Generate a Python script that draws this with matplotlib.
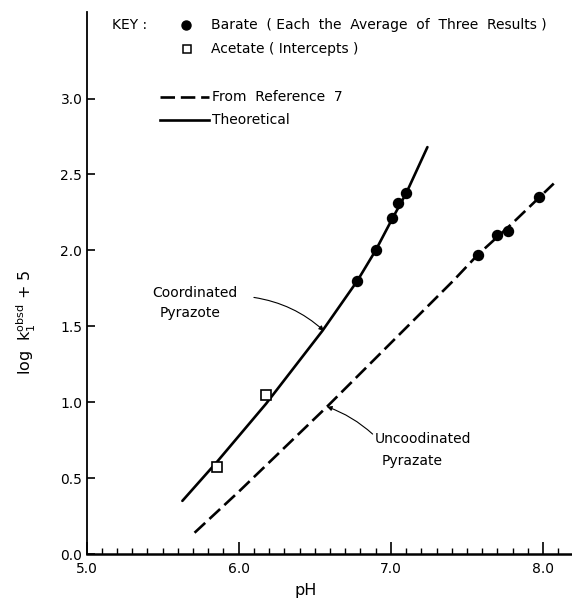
import numpy as np
import matplotlib
matplotlib.use("Agg")
import matplotlib.pyplot as plt
from matplotlib.lines import Line2D
from matplotlib.ticker import MultipleLocator

# --- data ---
# theoretical curve (solid)
theo_ph = [5.63, 5.86, 6.18, 6.55, 6.78, 6.90, 7.01, 7.10, 7.24]
theo_y = [0.35, 0.61, 0.99, 1.47, 1.80, 2.00, 2.21, 2.375, 2.68]
# from reference 7 (dashed)
ref_ph = [5.71, 6.00, 6.58, 7.00, 7.41, 7.57, 7.80, 8.07]
ref_y = [0.14, 0.41, 0.97, 1.39, 1.80, 1.97, 2.18, 2.44]
# borate points (filled circles)
bor_ph = [6.78, 6.90, 7.01, 7.05, 7.10, 7.57, 7.70, 7.77, 7.97]
bor_y = [1.80, 2.00, 2.21, 2.31, 2.375, 1.97, 2.10, 2.13, 2.35]
# acetate intercepts (open squares)
ace_ph = [5.855, 6.18]
ace_y = [0.57, 1.05]
yticks = [0.0, 0.5, 1.0, 1.5, 2.0, 2.5, 3.0]

W, H = 572, 598
fig = plt.figure(figsize=(W / 100, H / 100), dpi=100)
ax = fig.add_axes([86.5 / W, 44 / H, 485.5 / W, 542 / H])

def px(x, y):
  # figure pixel (from top-left) -> figure fraction
  return x / W, 1 - y / H

lw = 1.9
ax.plot(theo_ph, theo_y, color="black", lw=lw, solid_capstyle="round")
ax.plot(ref_ph, ref_y, color="black", lw=lw, dashes=(5.5, 2.2))
ax.plot(bor_ph, bor_y, "o", color="black", ms=7.2, zorder=5)
ax.plot(ace_ph, ace_y, "s", mfc="white", mec="black", mew=1.2, ms=6.5, zorder=5)

ax.set_xlim(5.0, 8.19)
ax.set_ylim(0.0, 3.57)
for s in ["top", "right"]:
  ax.spines[s].set_visible(False)
ax.spines["left"].set_linewidth(1.3)
ax.spines["bottom"].set_linewidth(1.8)

ax.xaxis.set_major_locator(MultipleLocator(1.0))
ax.xaxis.set_minor_locator(MultipleLocator(0.1))
ax.set_yticks(yticks)
ax.xaxis.set_major_formatter(plt.FormatStrFormatter("%.1f"))
ax.yaxis.set_major_formatter(plt.FormatStrFormatter("%.1f"))
ax.tick_params(axis="x", which="major", direction="in", length=9, width=1.2, labelsize=10, pad=6)
ax.tick_params(axis="x", which="minor", direction="in", length=4, width=1.0)
ax.tick_params(axis="y", which="major", direction="in", length=6, width=1.2, labelsize=10, pad=3)

# axis labels
fig.text(*px(306, 590), "pH", fontsize=11.5, ha="center", va="center")
fig.text(*px(26, 322), r"log  $\mathregular{k_1^{obsd}}$ + 5", fontsize=11.5,
         rotation=90, ha="center", va="center")

# key
fs = 10
fig.text(*px(112, 25), "KEY :", fontsize=fs, va="center")
fig.add_artist(Line2D([186 / W], [1 - 25 / H], marker="o", color="black", ms=6.5, ls="none"))
fig.text(*px(211, 25), "Barate  ( Each  the  Average  of  Three  Results )", fontsize=fs, va="center")
fig.add_artist(Line2D([187 / W], [1 - 49 / H], marker="s", mfc="white", mec="black", mew=1.1, ms=5.5, ls="none"))
fig.text(*px(211, 49), "Acetate ( Intercepts )", fontsize=fs, va="center")
fig.add_artist(Line2D([160 / W, 209 / W], [1 - 97 / H] * 2, color="black", lw=lw, dashes=(5.5, 2.2)))
fig.text(*px(212, 97), "From  Reference  7", fontsize=fs, va="center")
fig.add_artist(Line2D([160 / W, 209 / W], [1 - 120 / H] * 2, color="black", lw=lw))
fig.text(*px(212, 120), "Theoretical", fontsize=fs, va="center")

# annotations
ax.text(5.71, 1.72, "Coordinated", fontsize=fs, ha="center", va="center")
ax.text(5.68, 1.585, "Pyrazote", fontsize=fs, ha="center", va="center")
ax.annotate("", xy=(6.56, 1.47), xytext=(6.10, 1.69),
            arrowprops=dict(arrowstyle="-|>", color="black", lw=0.8,
                            mutation_scale=7, connectionstyle="arc3,rad=-0.15",
                            shrinkA=0, shrinkB=0))
ax.text(7.21, 0.757, "Uncoodinated", fontsize=fs, ha="center", va="center")
ax.text(7.14, 0.61, "Pyrazate", fontsize=fs, ha="center", va="center")
ax.annotate("", xy=(6.58, 0.97), xytext=(6.88, 0.79),
            arrowprops=dict(arrowstyle="-|>", color="black", lw=0.8,
                            mutation_scale=7, connectionstyle="arc3,rad=0.1",
                            shrinkA=0, shrinkB=0))

fig.savefig("out.png", dpi=100)
